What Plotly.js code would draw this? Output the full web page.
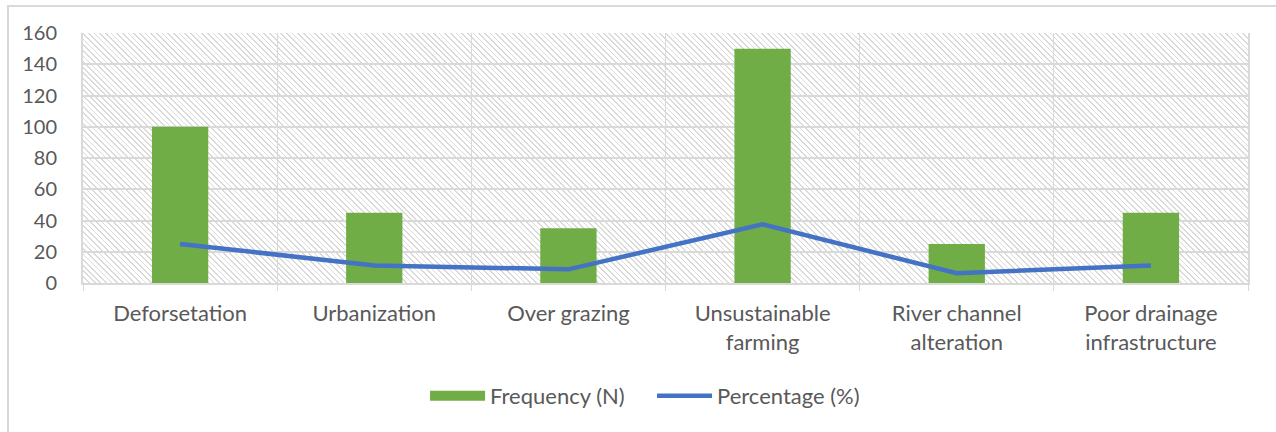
<!DOCTYPE html>
<html>
<head>
<meta charset="utf-8">
<script src="https://cdn.plot.ly/plotly-3.0.1.min.js"></script>
<style>
  html, body { margin: 0; padding: 0; background: #fff; }
  #wrap { position: relative; width: 1276px; height: 432px; overflow: hidden; }
  #frame { position: absolute; left: 7px; top: 5px; width: 1300px; height: 460px;
           border: 2px solid #d9d9d9; box-sizing: border-box; }
  #hatch { position: absolute;
           background: repeating-linear-gradient(45deg, #dadada 0px, #dadada 1.2px, #ffffff 1.2px, #ffffff 4px); }
  #chart { position: absolute; left: 0; top: 0; width: 1276px; height: 432px; }
</style>
</head>
<body>
<div id="wrap">
  <div id="frame"></div>
  <div id="hatch"></div>
  <div id="chart"></div>
</div>
<script>
// Causes of land degradation: counts and share of responses
const categories = [
  "Deforsetation",
  "Urbanization",
  "Over grazing",
  "Unsustainable<br>farming",
  "River channel<br>alteration",
  "Poor drainage<br>infrastructure"
];
const frequency = [100, 45, 35, 150, 25, 45];
const percentage = [25, 11.25, 8.75, 37.5, 6.25, 11.25];
const yTicks = [0, 20, 40, 60, 80, 100, 120, 140, 160];

const FONT = "Lato, 'Open Sans', sans-serif";
const GRID = "#d9d9d9";
const TEXT = "#595959";
const GREEN = "#70ad47";
const BLUE = "#4472c4";

const traces = [
  {
    type: "bar",
    name: "Frequency (N)",
    legendgroup: "freq",
    showlegend: false,
    x: categories,
    y: frequency,
    width: 0.29,
    marker: { color: GREEN }
  },
  {
    // wide legend key for the bars
    type: "scatter",
    mode: "lines",
    name: "Frequency (N)",
    legendgroup: "freq",
    x: [categories[0]],
    y: [null],
    line: { color: GREEN, width: 12 },
    hoverinfo: "skip"
  },
  {
    type: "scatter",
    mode: "lines",
    name: "Percentage (%)",
    x: categories,
    y: percentage,
    line: { color: BLUE, width: 4.5 }
  }
];

const layout = {
  width: 1276,
  height: 432,
  margin: { l: 83, r: 28, t: 33, b: 149 },
  paper_bgcolor: "rgba(0,0,0,0)",
  plot_bgcolor: "rgba(0,0,0,0)",
  font: { family: FONT, color: TEXT, size: 20 },
  showlegend: true,
  legend: {
    orientation: "h",
    x: 0.2936, xanchor: "left",
    y: -0.452, yanchor: "middle",
    font: { family: FONT, size: 22, color: TEXT },
    bgcolor: "rgba(0,0,0,0)",
    itemwidth: 55,
    entrywidth: 157,
    entrywidthmode: "pixels",
    traceorder: "normal"
  },
  xaxis: {
    type: "category",
    tickson: "boundaries",
    showgrid: true,
    gridcolor: GRID,
    gridwidth: 1,
    showline: true,
    linecolor: GRID,
    linewidth: 2,
    ticks: "outside",
    ticklen: 6,
    tickcolor: GRID,
    ticklabelstandoff: 10,
    tickfont: { family: FONT, size: 22, color: TEXT },
    fixedrange: true
  },
  yaxis: {
    range: [0, 160],
    tickvals: yTicks,
    ticktext: yTicks.map(String),
    showgrid: true,
    gridcolor: GRID,
    gridwidth: 2,
    zeroline: false,
    showline: true,
    mirror: true,
    linecolor: GRID,
    linewidth: 2,
    ticks: "",
    ticklabelstandoff: 20,
    tickfont: { family: FONT, size: 20, color: TEXT },
    fixedrange: true
  },
  bargap: 0.71
};

Plotly.newPlot("chart", traces, layout, { displayModeBar: false, staticPlot: true }).then(gd => {
  // place the hatched fill exactly under the plotting area
  const s = gd._fullLayout._size;
  const h = document.getElementById("hatch");
  h.style.left = s.l + "px";
  h.style.top = s.t + "px";
  h.style.width = s.w + "px";
  h.style.height = s.h + "px";
});
</script>
</body>
</html>
